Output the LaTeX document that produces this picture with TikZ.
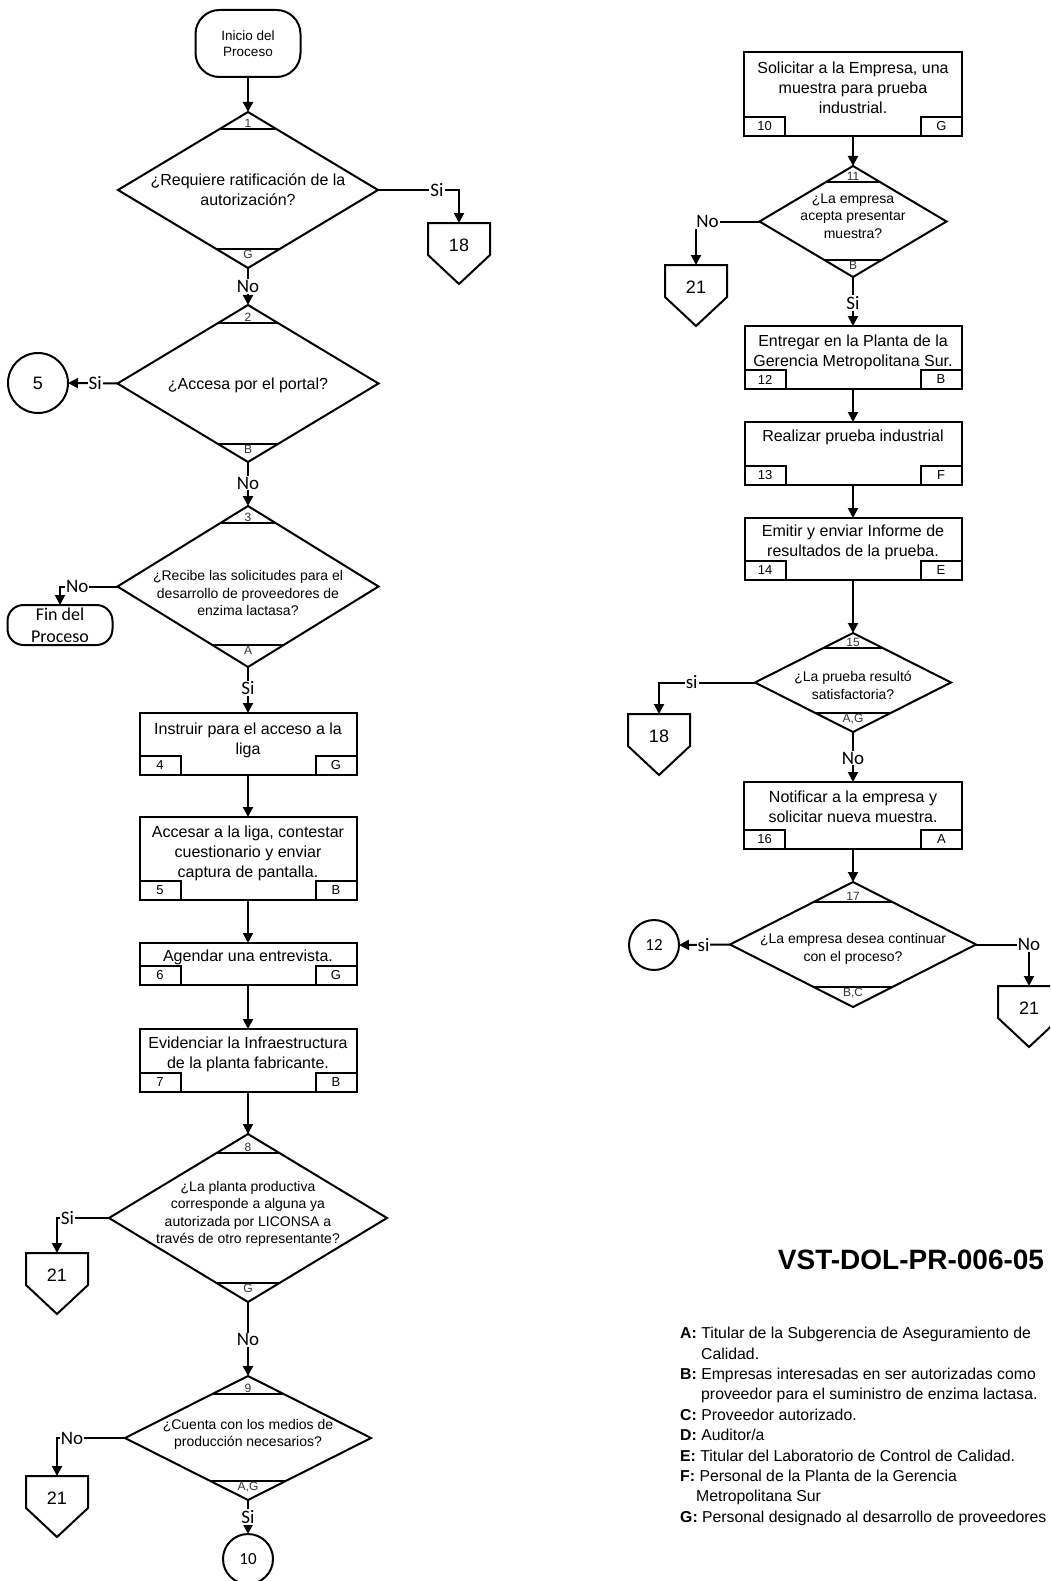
\documentclass[tikz,border=0pt]{standalone}
\usepackage{fontspec}
\setmainfont{Liberation Sans}
\newfontfamily\calfont{Carlito}
\usetikzlibrary{arrows.meta,calc,shapes.geometric}

\newcommand\fsz[2]{\fontsize{#1}{#2}\selectfont}

\tikzset{
  ln/.style={line width=2pt},
  arr/.style={ln, -{Triangle[length=10pt,width=10pt]}},
  proc/.style={rectangle, draw, ln, minimum width=217pt, inner sep=0pt, outer sep=0pt},
  ptext/.style={align=center, font=\fsz{16}{20}, inner sep=0pt},
  dec/.style={diamond, draw, ln, inner sep=0pt, outer sep=0pt},
  dtext/.style={align=center, font=\fsz{14}{17.5}, inner sep=0pt},
  dtextbig/.style={align=center, font=\fsz{16}{20}, inner sep=0pt},
  tick/.style={line width=1.3pt},
  dlab/.style={font=\fsz{12}{12}, text=black!80, inner sep=1pt},
  slab/.style={font=\fsz{13}{13}, inner sep=0pt},
  lbl/.style={font=\calfont\fsz{19}{19}, fill=white, inner sep=1pt},
  opc/.style={rectangle, minimum width=62pt, minimum height=32pt, inner sep=0pt, outer sep=0pt,
              text height=25pt, text depth=0pt, font=\fsz{18}{18}},
  conn/.style={circle, draw, ln, inner sep=0pt, outer sep=0pt},
  term/.style={rectangle, draw, ln, align=center, inner sep=0pt, outer sep=0pt},
}

% small number / role boxes in the lower corners of a process box
\newcommand\subboxes[3]{%
  \draw[ln] (#1.south west) rectangle ++(41,-19);
  \node[slab] (#1-l) at ($(#1.south west)+(20.5,-9.5)$) {#2};
  \draw[ln] (#1.south east) rectangle ++(-41,-19);
  \node[slab] (#1-r) at ($(#1.south east)+(-20.5,-9.5)$) {#3};
}

% chords near the top and bottom vertex of a decision, with their labels
% #1 node, #2 half height, #3 top offset, #4 bottom offset, #5 top text, #6 bottom text
\newcommand\decmarks[6]{%
  \pgfmathsetmacro\dmTop{#3/#2}\pgfmathsetmacro\dmBot{#4/#2}%
  \pgfmathsetmacro\dmTopH{#3/(2*#2)}\pgfmathsetmacro\dmBotH{#4/(2*#2)}%
  \draw[tick] ($(#1.north)!\dmTop!(#1.west)$) -- ($(#1.north)!\dmTop!(#1.east)$);
  \draw[tick] ($(#1.south)!\dmBot!(#1.west)$) -- ($(#1.south)!\dmBot!(#1.east)$);
  \node[dlab, anchor=south] (#1-n) at ($(#1.north)!\dmTopH!(#1.south)$) {#5};
  \node[dlab, anchor=north] (#1-r) at ($(#1.south)!\dmBotH!(#1.north)$) {#6};
}

% off-page connector: name, x, y of the square part's centre, text
\newcommand\offpage[4]{%
  \node[opc] (#1) at (#2,#3) {#4};
  \draw[ln, line join=miter] (#1.south west) -- (#1.north west) -- (#1.north east)
    -- (#1.south east) -- ($(#1.south)+(0,29)$) -- cycle;
}

\begin{document}
\begin{tikzpicture}[x=1pt, y=-1pt]
\useasboundingbox (0,0) rectangle (1050,1581);
\clip (0,0) rectangle (1050,1581);
\fill[white] (0,0) rectangle (1050,1581);

% ---------------- left column ----------------
\node[term, minimum width=105pt, minimum height=67pt, rounded corners=24pt, font=\fsz{13.5}{16}]
  (start) at (248,43.5) {Inicio del\\Proceso};

\node[dec, minimum width=260pt, minimum height=156pt] (d1) at (248,190) {};
\node[dtextbig] (d1t) at (248,190) {¿Requiere ratificación de la\\autorización?};
\decmarks{d1}{78}{17}{19}{1}{G}

\offpage{c18a}{459}{239}{18}

\node[dec, minimum width=261pt, minimum height=157pt] (d2) at (248,383.5) {};
\node[dtextbig] (d2t) at (248,385) {¿Accesa por el portal?};
\decmarks{d2}{78.5}{18}{18}{2}{B}

\node[conn, minimum size=60pt, font=\fsz{18}{18}] (c5) at (38,383) {5};

\node[dec, minimum width=261pt, minimum height=161pt] (d3) at (248,586.5) {};
\node[dtext] (d3t) at (248,593) {¿Recibe las solicitudes para el\\desarrollo de proveedores de\\enzima lactasa?};
\decmarks{d3}{80.5}{17}{22}{3}{A}

\node[term, minimum width=105pt, minimum height=40pt, rounded corners=16pt, font=\calfont\fsz{18}{22}]
  (finish) at (60,625) {Fin del\\Proceso};

\node[proc, minimum height=62pt] (b4) at (248,744) {};
\node[ptext] (b4t) at (248,740) {Instruir para el acceso a la\\liga};
\subboxes{b4}{4}{G}

\node[proc, minimum height=83pt] (b5) at (248,858.5) {};
\node[ptext] (b5t) at (248,853) {Accesar a la liga, contestar\\cuestionario y enviar\\captura de pantalla.};
\subboxes{b5}{5}{B}

\node[proc, minimum height=42pt] (b6) at (248,964) {};
\node[ptext] (b6t) at (248,957) {Agendar una entrevista.};
\subboxes{b6}{6}{G}

\node[proc, minimum height=63pt] (b7) at (248,1060.5) {};
\node[ptext] (b7t) at (248,1054) {Evidenciar la Infraestructura\\de la planta fabricante.};
\subboxes{b7}{7}{B}

\node[dec, minimum width=278pt, minimum height=168pt] (d8) at (248,1218) {};
\node[dtext] (d8t) at (248,1214) {¿La planta productiva\\corresponde a alguna ya\\autorizada por LICONSA a\\través de otro representante?};
\decmarks{d8}{84}{19}{19}{8}{G}

\offpage{c21a}{57}{1269}{21}

\node[dec, minimum width=246pt, minimum height=124pt] (d9) at (248,1438) {};
\node[dtext] (d9t) at (248,1434.5) {¿Cuenta con los medios de\\producción necesarios?};
\decmarks{d9}{62}{18}{19}{9}{A,G}

\offpage{c21b}{57}{1492}{21}

\node[conn, minimum size=50pt, font=\calfont\fsz{17}{17}] (c10) at (248,1559) {10};

% ---------------- right column ----------------
\node[proc, minimum width=218pt, minimum height=84pt] (b10) at (853,94) {};
\node[ptext] (b10t) at (853,88) {Solicitar a la Empresa, una\\muestra para prueba\\industrial.};
\subboxes{b10}{10}{G}

\node[dec, minimum width=187pt, minimum height=111pt] (d11) at (853,221.5) {};
\node[dtext] (d11t) at (853,216) {¿La empresa\\acepta presentar\\muestra?};
\decmarks{d11}{55.5}{16}{17}{11}{B}

\offpage{c21c}{696}{281}{21}

\node[proc, minimum height=63pt] (b12) at (853,357.5) {};
\node[ptext] (b12t) at (853,352) {Entregar en la Planta de la\\Gerencia Metropolitana Sur.};
\subboxes{b12}{12}{B}

\node[proc, minimum height=63pt] (b13) at (853,453.5) {};
\node[ptext] (b13t) at (853,437) {Realizar prueba industrial};
\subboxes{b13}{13}{F}

\node[proc, minimum height=62pt] (b14) at (853,549) {};
\node[ptext] (b14t) at (853,542.5) {Emitir y enviar Informe de\\resultados de la prueba.};
\subboxes{b14}{14}{E}

\node[dec, minimum width=196pt, minimum height=99pt] (d15) at (853,682.5) {};
\node[dtext] (d15t) at (853,685.5) {¿La prueba resultó\\satisfactoria?};
\decmarks{d15}{49.5}{15}{19}{15}{A,G}

\offpage{c18b}{659}{730}{18}

\node[proc, minimum width=218pt, minimum height=67pt] (b16) at (853,815.5) {};
\node[ptext] (b16t) at (853,807) {Notificar a la empresa y\\solicitar nueva muestra.};
\subboxes{b16}{16}{A}

\node[dec, minimum width=246pt, minimum height=125pt] (d17) at (853,944.5) {};
\node[dtext] (d17t) at (853,949) {¿La empresa desea continuar\\con el proceso?};
\decmarks{d17}{62.5}{20}{20}{17}{B,C}

\node[conn, minimum size=50pt, font=\calfont\fsz{17}{17}] (c12) at (654,945) {12};

\offpage{c21d}{1029}{1002}{21}

% ---------------- connectors ----------------
\draw[arr] (start.south) -- (d1.north);
\draw[arr] (d1.east) -| node[lbl, pos=0.364] (l1) {Si} (c18a.north);
\draw[arr] (d1.south) -- node[lbl, pos=0.5] (l2) {No} (d2.north);
\draw[arr] (d2.west) -- node[lbl, pos=0.45] (l3) {Si} (c5.east);
\draw[arr] (d2.south) -- node[lbl, pos=0.48] (l4) {No} (d3.north);
\draw[arr] (d3.west) -| node[lbl, pos=0.35] (l5) {No} (finish.north);
\draw[arr] (d3.south) -- node[lbl, pos=0.46] (l6) {Si} (b4.north);
\draw[arr] (b4.south) -- (b5.north);
\draw[arr] (b5.south) -- (b6.north);
\draw[arr] (b6.south) -- (b7.north);
\draw[arr] (b7.south) -- (d8.north);
\draw[arr] (d8.west) -| node[lbl, pos=0.40] (l7) {Si} (c21a.north);
\draw[arr] (d8.south) -- node[lbl, pos=0.51] (l8) {No} (d9.north);
\draw[arr] (d9.west) -| node[lbl, pos=0.39] (l9) {No} (c21b.north);
\draw[arr] (d9.south) -- node[lbl, pos=0.5] (l10) {Si} (c10.north);

\draw[arr] (b10.south) -- (d11.north);
\draw[arr] (d11.west) -| node[lbl, pos=0.41] (l11) {No} (c21c.north);
\draw[arr] (d11.south) -- node[lbl, pos=0.53] (l12) {Si} (b12.north);
\draw[arr] (b12.south) -- (b13.north);
\draw[arr] (b13.south) -- (b14.north);
\draw[arr] (b14.south) -- (d15.north);
\draw[arr] (d15.west) -| node[lbl, pos=0.33] (l13) {si} (c18b.north);
\draw[arr] (d15.south) -- node[lbl, pos=0.52] (l14) {No} (b16.north);
\draw[arr] (b16.south) -- (d17.north);
\draw[arr] (d17.west) -- node[lbl, pos=0.52] (l15) {si} (c12.east);
\draw[arr] (d17.east) -| node[lbl, pos=0.5] (l16) {No} (c21d.north);

% ---------------- code and legend ----------------
\node[font=\bfseries\fsz{28}{28}, inner sep=0pt] (code) at (911,1260) {VST-DOL-PR-006-05};

\node[anchor=north west, align=left, inner sep=0pt, font=\fsz{15.8}{20.4}] (legend) at (680,1327) {%
\textbf{A:} Titular de la Subgerencia de Aseguramiento de\\
\hspace*{21pt}Calidad.\\
\textbf{B:} Empresas interesadas en ser autorizadas como\\
\hspace*{21pt}proveedor para el suministro de enzima lactasa.\\
\textbf{C:} Proveedor autorizado.\\
\textbf{D:} Auditor/a\\
\textbf{E:} Titular del Laboratorio de Control de Calidad.\\
\textbf{F:} Personal de la Planta de la Gerencia\\
\hspace*{16pt}Metropolitana Sur\\
\textbf{G:} Personal designado al desarrollo de proveedores};
\end{tikzpicture}
\end{document}
